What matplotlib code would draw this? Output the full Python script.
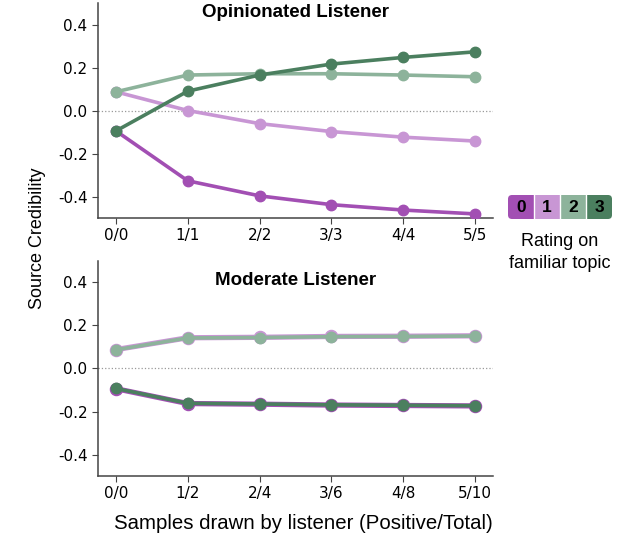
import matplotlib
matplotlib.use("Agg")
import matplotlib.pyplot as plt
from matplotlib.patches import FancyBboxPatch, Rectangle

plt.rcParams["axes.unicode_minus"] = False

# x positions / labels
steps = [0, 1, 2, 3, 4, 5]
labels_opinionated = ["0/0", "1/1", "2/2", "3/3", "4/4", "5/5"]
labels_moderate = ["0/0", "1/2", "2/4", "3/6", "4/8", "5/10"]

ratings = ["0", "1", "2", "3"]
colors = ["#a24fb3", "#c896d4", "#8db39b", "#4b7f5f"]

# Opinionated listener, one list per rating
opin_r0 = [-0.095, -0.327, -0.397, -0.438, -0.463, -0.481]
opin_r1 = [0.087, 0.000, -0.061, -0.098, -0.124, -0.142]
opin_r2 = [0.087, 0.165, 0.171, 0.171, 0.165, 0.157]
opin_r3 = [-0.095, 0.090, 0.165, 0.216, 0.247, 0.273]

# Moderate listener
mod_r0 = [-0.094, -0.163, -0.166, -0.170, -0.172, -0.174]
mod_r1 = [0.088, 0.143, 0.145, 0.149, 0.150, 0.152]
mod_r2 = [0.087, 0.142, 0.144, 0.148, 0.149, 0.151]
mod_r3 = [-0.093, -0.162, -0.165, -0.169, -0.171, -0.173]

label_font = "Liberation Sans"

fig = plt.figure(figsize=(6.29, 5.4), dpi=100)
ax1 = fig.add_axes([0.1558, 0.5963, 0.628, 0.3981])
ax2 = fig.add_axes([0.1558, 0.1185, 0.628, 0.3982])

panels = [
    (ax1, [opin_r0, opin_r1, opin_r2, opin_r3], labels_opinionated, "Opinionated Listener", 0.958, 0),
    (ax2, [mod_r0, mod_r1, mod_r2, mod_r3], labels_moderate, "Moderate Listener", 0.91, 1),
]

for ax, series, xlabels, title, ty, halo in panels:
    ax.axhline(0, color="#999999", linestyle=":", linewidth=0.9, zorder=1)
    for i, (vals, c) in enumerate(zip(series, colors)):
        # purple series sit under the green ones in the moderate panel
        extra = 1.2 if (halo and i < 2) else 0
        ax.plot(steps, vals, color=c, linewidth=2.6 + extra, marker="o",
                markersize=7.5 + extra, zorder=3)
    ax.set_xlim(-0.25, 5.25)
    ax.set_ylim(-0.5, 0.5)
    ax.set_yticks([-0.4, -0.2, 0.0, 0.2, 0.4])
    ax.set_xticks(steps)
    ax.set_xticklabels(xlabels)
    ax.tick_params(labelsize=11, color="#444444", length=4)
    for s in ["top", "right"]:
        ax.spines[s].set_visible(False)
    for s in ["left", "bottom"]:
        ax.spines[s].set_color("#444444")
        ax.spines[s].set_linewidth(1.1)
    ax.text(0.5, ty, title, transform=ax.transAxes, ha="center", va="center",
            fontsize=13.5, fontweight="bold", family=label_font)

fig.text(0.06, 0.559, "Source Credibility", rotation=90, ha="center", va="center",
         fontsize=13, family=label_font)
fig.text(0.483, 0.031, "Samples drawn by listener (Positive/Total)", ha="center", va="center",
         fontsize=14.7, family=label_font)

# colour key for ratings
lax = fig.add_axes([508 / 629, 1 - 219 / 540, 104 / 629, 24 / 540])
lax.set_xlim(0, 104)
lax.set_ylim(0, 24)
lax.axis("off")
w = 26
for i, (r, c) in enumerate(zip(ratings, colors)):
    x0 = i * w
    if i == 0 or i == len(ratings) - 1:
        lax.add_patch(FancyBboxPatch((x0 + 4, 4), w - 8, 16, boxstyle="round,pad=4",
                                     facecolor=c, edgecolor="none"))
        cover = x0 + w / 2 if i == 0 else x0
        lax.add_patch(Rectangle((cover, 0), w / 2, 24, facecolor=c, edgecolor="none"))
    else:
        lax.add_patch(Rectangle((x0, 0), w, 24, facecolor=c, edgecolor="none"))
    lax.text(x0 + w / 2, 12, r, ha="center", va="center", fontsize=12.5,
             fontweight="bold", color="black", family=label_font)
for i in range(1, len(ratings)):
    lax.plot([i * w, i * w], [0, 24], color="white", linewidth=1)

fig.text(560 / 629, 1 - 242 / 540, "Rating on", ha="center", va="center",
         fontsize=13, family=label_font)
fig.text(560 / 629, 1 - 264 / 540, "familiar topic", ha="center", va="center",
         fontsize=13, family=label_font)

fig.savefig("out.png", dpi=100)
